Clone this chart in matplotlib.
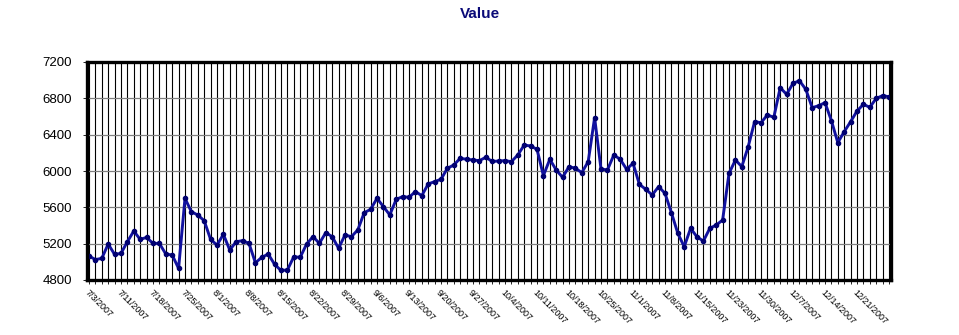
import matplotlib
matplotlib.use('Agg')
import matplotlib.pyplot as plt
import numpy as np
import pandas as pd

# trading days 7/3/2007 - 12/31/2007 (US market holidays dropped)
days = pd.bdate_range('2007-07-03', '2007-12-31')
holidays = pd.to_datetime(['2007-07-04', '2007-09-03', '2007-11-22', '2007-12-25'])
days = days[~days.isin(holidays)]
date_labels = [f"{d.month}/{d.day}/{d.year}" for d in days]

values = [
    5064, 5025, 5038, 5196, 5082, 5093, 5222, 5339, 5247, 5269,
    5203, 5203, 5086, 5075, 4928, 5699, 5552, 5515, 5453, 5247,
    5185, 5302, 5130, 5222, 5233, 5203, 4990, 5049, 5086, 4972,
    4905, 4910, 5056, 5049, 5196, 5277, 5204, 5321, 5277, 5149,
    5296, 5277, 5351, 5541, 5578, 5699, 5608, 5516, 5688, 5718,
    5710, 5773, 5729, 5857, 5883, 5909, 6030, 6066, 6140, 6129,
    6121, 6114, 6151, 6105, 6110, 6114, 6103, 6176, 6286, 6275,
    6239, 5949, 6129, 6011, 5930, 6048, 6030, 5982, 6103, 6587,
    6022, 6011, 6176, 6129, 6019, 6085, 5853, 5798, 5736, 5828,
    5754, 5541, 5314, 5167, 5369, 5274, 5229, 5369, 5405, 5460,
    5974, 6121, 6048, 6268, 6543, 6532, 6617, 6591, 6917, 6844,
    6965, 6994, 6899, 6697, 6719, 6752, 6554, 6312, 6433, 6543,
    6660, 6734, 6701, 6800, 6829, 6818,
]

y_ticks = [4800, 5200, 5600, 6000, 6400, 6800, 7200]

plt.rcParams['font.family'] = ['Liberation Sans', 'DejaVu Sans']

fig = plt.figure(figsize=(9.59, 3.35), dpi=100)
ax = fig.add_axes([87 / 959, 1 - 280 / 335, 804 / 959, 218 / 335])

x = np.arange(len(values))
ax.plot(x, values, color='#1212a0', lw=2.1, marker='o', ms=3,
        mfc='#000070', mec='#000070', zorder=3, clip_on=False)

ax.set_xlim(-0.31, len(values) - 1 + 0.31)
ax.set_ylim(4800, 7200)

# vertical grid at every category, label every 5th day (last day unlabeled)
ax.set_xticks(x, minor=True)
major = x[:len(values) - 1:5]
ax.set_xticks(major)
ax.set_xticklabels([date_labels[i] for i in major], rotation=-45, ha='left',
                   va='top', rotation_mode='anchor', fontsize=6.5)
ax.grid(which='both', axis='x', color='black', lw=0.8, zorder=1)
ax.set_yticks(y_ticks)
ax.set_yticklabels([str(v) for v in y_ticks], fontsize=9.5)
ax.grid(axis='y', color='#808080', lw=0.9, zorder=1)

ax.tick_params(axis='x', which='both', length=3, width=0.6, pad=3, direction='out')
ax.tick_params(axis='y', length=3, width=0.6, pad=8)

for s in ax.spines.values():
    s.set_linewidth(2.4)
    s.set_color('black')
    s.set_zorder(4)

fig.text(0.5, 1 - 14 / 335, 'Value', ha='center', va='center',
         fontsize=11, fontweight='bold', color='#0a0a78')

fig.savefig('out.png', dpi=100)
